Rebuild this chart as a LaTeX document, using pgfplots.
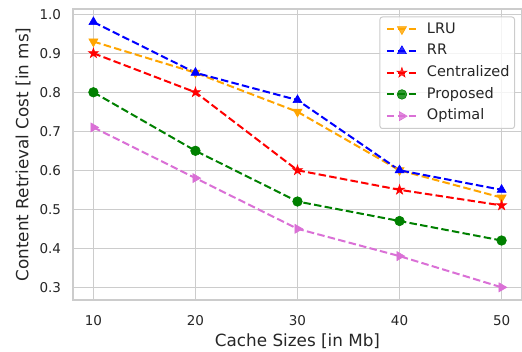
\documentclass[border=0pt]{standalone}
\usepackage{fontspec}
\setmainfont{DejaVu Sans}
\usepackage{pgfplots}
\pgfplotsset{compat=1.18}
\definecolor{gridgray}{RGB}{204,204,204}
\definecolor{txt}{RGB}{38,38,38}
\definecolor{c1}{RGB}{255,165,0}
\definecolor{c2}{RGB}{0,0,255}
\definecolor{c3}{RGB}{255,0,0}
\definecolor{c4}{RGB}{0,128,0}
\definecolor{c5}{RGB}{218,112,214}
\pgfdeclareplotmark{fstar}{%
  \pgfpathmoveto{\pgfpointpolar{90}{\pgfplotmarksize}}%
  \pgfpathlineto{\pgfpointpolar{126}{0.382\pgfplotmarksize}}%
  \pgfpathlineto{\pgfpointpolar{162}{\pgfplotmarksize}}%
  \pgfpathlineto{\pgfpointpolar{198}{0.382\pgfplotmarksize}}%
  \pgfpathlineto{\pgfpointpolar{234}{\pgfplotmarksize}}%
  \pgfpathlineto{\pgfpointpolar{270}{0.382\pgfplotmarksize}}%
  \pgfpathlineto{\pgfpointpolar{306}{\pgfplotmarksize}}%
  \pgfpathlineto{\pgfpointpolar{342}{0.382\pgfplotmarksize}}%
  \pgfpathlineto{\pgfpointpolar{18}{\pgfplotmarksize}}%
  \pgfpathlineto{\pgfpointpolar{54}{0.382\pgfplotmarksize}}%
  \pgfpathclose
  \pgfusepathqfillstroke}
\begin{document}
\begin{tikzpicture}
\useasboundingbox (-73bp,-52bp) rectangle (449bp,300bp);
\begin{axis}[
  at={(0,0)}, anchor=south west,
  scale only axis, width=449bp, height=291bp,
  xmin=8, xmax=52, ymin=0.2675, ymax=1.0135,
  xtick={10,20,30,40,50},
  ytick={0.3,0.4,0.5,0.6,0.7,0.8,0.9,1.0},
  yticklabel style={/pgf/number format/fixed, /pgf/number format/fixed zerofill, /pgf/number format/precision=1, xshift=-8.5bp},
  /pgf/number format/assume math mode=true,
  tick style={draw=none},
  grid=major,
  major grid style={draw=gridgray, line width=1.1bp},
  axis line style={draw=gridgray, line width=1.25bp},
  ticklabel style={font=\fontsize{13.5bp}{16bp}\selectfont, text=txt},
  xticklabel style={anchor=base, yshift=-25bp},
  xlabel={Cache Sizes [in Mb]},
  ylabel={Content Retrieval Cost [in ms]},
  label style={font=\fontsize{16.8bp}{20bp}\selectfont, text=txt},
  xlabel style={at={(axis description cs:0.5,-0.1605)}, anchor=base},
  ylabel style={at={(axis description cs:-0.111,0.5)}, anchor=center},
  every axis plot/.append style={line width=2bp, dash pattern=on 7.5bp off 3.3bp},
  legend cell align=left,
  legend style={at={(1,1)}, anchor=north east, xshift=-7bp, yshift=-7.5bp,
    draw=gridgray, line width=1bp, rounded corners=2.5bp, fill=white, fill opacity=0.8, text opacity=1,
    font=\fontsize{14.5bp}{17bp}\selectfont, text=txt, inner xsep=2bp, inner ysep=1.5bp,
    nodes={text height=10.5bp, text depth=3bp, inner ysep=4.1bp, inner xsep=3bp}},
  legend image code/.code={\draw[mark repeat=2, mark phase=2, #1] plot coordinates {(0bp,0bp) (15bp,0bp) (30bp,0bp)}; \path (36bp,0bp) (-4bp,0bp);},
]
\addplot[c1, mark=triangle*, mark size=5.2bp, mark options={solid, rotate=180, fill=c1, line width=0.6bp}] coordinates {(10,0.93) (20,0.85) (30,0.75) (40,0.60) (50,0.53)};
\addlegendentry{LRU}
\addplot[c2, mark=triangle*, mark size=5.2bp, mark options={solid, fill=c2, line width=0.6bp}] coordinates {(10,0.98) (20,0.85) (30,0.78) (40,0.60) (50,0.55)};
\addlegendentry{RR}
\addplot[c3, mark=fstar, mark size=5.2bp, mark options={solid, fill=c3, line width=0.6bp}] coordinates {(10,0.90) (20,0.80) (30,0.60) (40,0.55) (50,0.51)};
\addlegendentry{Centralized}
\addplot[c4, mark=*, mark size=4.8bp, mark options={solid, fill=c4, line width=0.6bp}] coordinates {(10,0.80) (20,0.65) (30,0.52) (40,0.47) (50,0.42)};
\addlegendentry{Proposed}
\addplot[c5, mark=triangle*, mark size=5.2bp, mark options={solid, rotate=-90, fill=c5, line width=0.6bp}] coordinates {(10,0.71) (20,0.58) (30,0.45) (40,0.38) (50,0.30)};
\addlegendentry{Optimal}
\end{axis}
\end{tikzpicture}
\end{document}
